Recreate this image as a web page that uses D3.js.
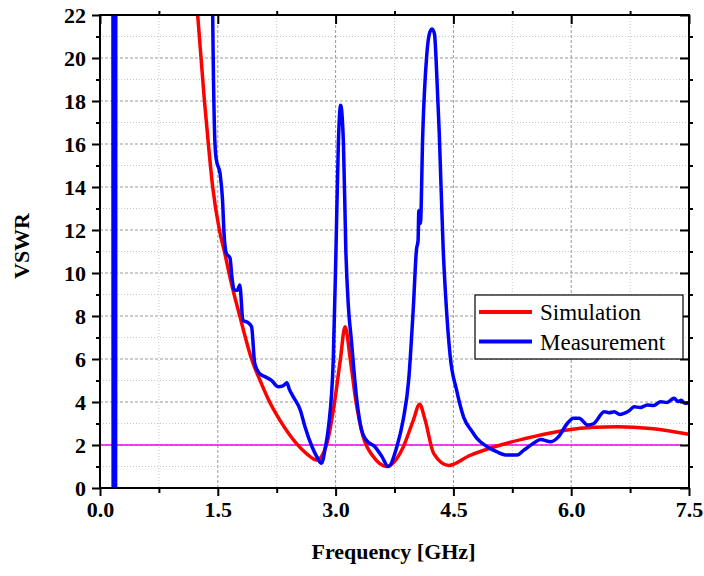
<!DOCTYPE html>
<html>
<head>
<meta charset="UTF-8">
<style>
  body { margin: 0; background: #fff; }
  svg text { font-family: "Liberation Serif", "Times New Roman", serif; }
</style>
</head>
<body>
<script src="https://d3js.org/d3.v7.min.js"></script>
<script>
// simulation curve [GHz, VSWR]
var simulation = [
  [1.20, 24], [1.244, 22], [1.33, 18], [1.38, 16], [1.435, 14], [1.52, 12],
  [1.59, 10.9], [1.655, 9.8], [1.78, 8.0], [1.93, 6.0], [2.05, 4.9], [2.16, 4.0],
  [2.29, 3.16], [2.50, 2.08], [2.63, 1.6], [2.76, 1.3], [2.89, 2.08], [2.97, 3.6],
  [3.06, 5.95], [3.12, 7.5], [3.19, 5.9], [3.26, 4.0], [3.35, 2.4], [3.48, 1.46],
  [3.65, 1.0], [3.86, 1.9], [3.99, 3.16], [4.07, 3.9], [4.14, 3.16], [4.25, 1.6],
  [4.44, 1.05], [4.70, 1.5], [5.10, 2.0], [5.52, 2.39], [5.95, 2.7], [6.30, 2.82],
  [6.59, 2.85], [7.01, 2.77], [7.50, 2.5]
];

// measured curve [GHz, VSWR]
var measurement = [
  [0.10, 40], [0.163, 40], [0.168, -2], [0.172, -2], [0.177, 40], [0.181, -2],
  [0.185, -2], [0.19, 40], [0.194, -2], [0.198, -2], [0.203, 40], [1.40, 40],
  [1.435, 22], [1.464, 16], [1.48, 15.3], [1.53, 14.6], [1.56, 13.4], [1.58, 11.8],
  [1.61, 10.9], [1.655, 10.7], [1.68, 9.8], [1.71, 9.2], [1.75, 9.2], [1.78, 9.44],
  [1.82, 7.8], [1.88, 7.7], [1.93, 7.5], [1.97, 5.8], [2.03, 5.33], [2.10, 5.18],
  [2.18, 5.02], [2.27, 4.71], [2.33, 4.75], [2.38, 4.9], [2.41, 4.6], [2.46, 4.25],
  [2.55, 3.63], [2.61, 2.85], [2.70, 1.92], [2.76, 1.46], [2.82, 1.15], [2.87, 1.9],
  [2.91, 2.85], [2.97, 5.95], [3.005, 11.1], [3.035, 16.0], [3.064, 17.8], [3.10, 16.0],
  [3.13, 11.1], [3.16, 8.6], [3.20, 6.9], [3.27, 4.1], [3.33, 2.7], [3.39, 2.23],
  [3.50, 1.92], [3.59, 1.46], [3.67, 1.0], [3.78, 1.92], [3.86, 3.16], [3.93, 5.0],
  [3.99, 8.4], [4.03, 11.1], [4.05, 11.5], [4.06, 12.9], [4.08, 12.3], [4.11, 16.5],
  [4.16, 20.1], [4.20, 21.2], [4.23, 21.35], [4.26, 21.1], [4.28, 19.9], [4.32, 16.5],
  [4.37, 11.1], [4.40, 9.0], [4.46, 6.1], [4.54, 4.56], [4.63, 3.3], [4.74, 2.62],
  [4.80, 2.31], [4.93, 1.92], [5.05, 1.69], [5.18, 1.53], [5.31, 1.53], [5.40, 1.77],
  [5.52, 2.08], [5.61, 2.26], [5.74, 2.15], [5.84, 2.39], [5.95, 3.0], [6.03, 3.24],
  [6.10, 3.24], [6.21, 2.93], [6.29, 3.0], [6.42, 3.55], [6.48, 3.5], [6.55, 3.55],
  [6.62, 3.42], [6.67, 3.47], [6.74, 3.6], [6.80, 3.78], [6.88, 3.74], [6.97, 3.86],
  [7.05, 3.84], [7.14, 4.01], [7.22, 3.98], [7.31, 4.17], [7.36, 4.02], [7.40, 4.08],
  [7.45, 3.94], [7.50, 3.97]
];

var refLine = [[0, 2], [7.41, 2]];

var xTicks = [0, 1.5, 3.0, 4.5, 6.0, 7.5];
var xMinor = [0.75, 2.25, 3.75, 5.25, 6.75];
var yTicks = [0, 2, 4, 6, 8, 10, 12, 14, 16, 18, 20, 22];
var yMinor = [1, 3, 5, 7, 9, 11, 13, 15, 17, 19, 21];

var seriesNames = ['Simulation', 'Measurement'];
var seriesColors = ['#ff0000', '#0000ff'];

var W = 704, H = 576;
var L = 100, R = 689, T = 15, B = 488;

var svg = d3.select('body').append('svg').attr('width', W).attr('height', H);

var x = d3.scaleLinear().domain([0, 7.5]).range([L, R]);
var y = d3.scaleLinear().domain([0, 22]).range([B, T]);

// grid
var grid = svg.append('g');
grid.selectAll('.vmin').data(xMinor).enter().append('line')
  .attr('x1', d => x(d)).attr('x2', d => x(d)).attr('y1', T).attr('y2', B)
  .attr('stroke', '#c8c8c8').attr('stroke-width', 1).attr('stroke-dasharray', '1,2');
grid.selectAll('.hmin').data(yMinor).enter().append('line')
  .attr('y1', d => y(d)).attr('y2', d => y(d)).attr('x1', L).attr('x2', R)
  .attr('stroke', '#c8c8c8').attr('stroke-width', 1).attr('stroke-dasharray', '1,2');
grid.selectAll('.vmaj').data(xTicks.slice(1, -1)).enter().append('line')
  .attr('x1', d => x(d)).attr('x2', d => x(d)).attr('y1', T).attr('y2', B)
  .attr('stroke', '#999').attr('stroke-width', 1).attr('stroke-dasharray', '3,2');
grid.selectAll('.hmaj').data(yTicks.slice(1, -1)).enter().append('line')
  .attr('y1', d => y(d)).attr('y2', d => y(d)).attr('x1', L).attr('x2', R)
  .attr('stroke', '#999').attr('stroke-width', 1).attr('stroke-dasharray', '3,2');

svg.append('clipPath').attr('id', 'clip').append('rect')
  .attr('x', L).attr('y', T).attr('width', R - L).attr('height', B - T);

var line = d3.line().x(d => x(d[0])).y(d => y(d[1]));
var smooth = d3.line().x(d => x(d[0])).y(d => y(d[1])).curve(d3.curveMonotoneX);
var plot = svg.append('g').attr('clip-path', 'url(#clip)');

plot.append('path').datum(refLine).attr('d', line)
  .attr('fill', 'none').attr('stroke', '#ff00ff').attr('stroke-width', 1.5);
plot.append('path').datum(simulation).attr('d', smooth)
  .attr('fill', 'none').attr('stroke', seriesColors[0]).attr('stroke-width', 3.5);
plot.append('path').datum(measurement).attr('d', smooth)
  .attr('fill', 'none').attr('stroke', seriesColors[1]).attr('stroke-width', 3.5)
  .attr('stroke-linejoin', 'round');

// axes
svg.append('g').attr('transform', 'translate(0,' + B + ')')
  .call(d3.axisBottom(x).tickValues(xTicks).tickFormat(d3.format('.1f')).tickSize(8).tickPadding(5));
svg.append('g').attr('transform', 'translate(0,' + B + ')')
  .call(d3.axisBottom(x).tickValues(xMinor).tickSize(5).tickFormat(''));
svg.append('g').attr('transform', 'translate(' + L + ',0)')
  .call(d3.axisLeft(y).tickValues(yTicks).tickSize(8).tickPadding(6));
svg.append('g').attr('transform', 'translate(' + L + ',0)')
  .call(d3.axisLeft(y).tickValues(yMinor).tickSize(4).tickFormat(''));

// top and right: majors inward, minors outward
svg.append('g').attr('transform', 'translate(0,' + T + ')')
  .call(d3.axisBottom(x).tickValues(xTicks).tickSize(9).tickFormat(''));
svg.append('g').attr('transform', 'translate(0,' + T + ')')
  .call(d3.axisTop(x).tickValues(xMinor).tickSize(4).tickFormat(''));
svg.append('g').attr('transform', 'translate(' + R + ',0)')
  .call(d3.axisLeft(y).tickValues(yTicks).tickSize(9).tickFormat(''));
svg.append('g').attr('transform', 'translate(' + R + ',0)')
  .call(d3.axisRight(y).tickValues(yMinor).tickSize(4).tickFormat(''));

svg.selectAll('.domain').remove();
svg.selectAll('.tick line').attr('stroke', '#000').attr('stroke-width', 2);
svg.selectAll('.tick text').attr('fill', '#000')
  .style('font-family', '"Liberation Serif", serif')
  .style('font-size', '22px').style('font-weight', 'bold');

svg.append('rect').attr('x', L).attr('y', T).attr('width', R - L).attr('height', B - T)
  .attr('fill', 'none').attr('stroke', '#000').attr('stroke-width', 2);

// axis titles
svg.append('text').attr('x', (L + R) / 2 - 1).attr('y', 559).attr('text-anchor', 'middle')
  .style('font-size', '22px').style('font-weight', 'bold').text('Frequency [GHz]');
svg.append('text').attr('transform', 'translate(29,246) rotate(-90)').attr('text-anchor', 'middle')
  .style('font-size', '22px').style('font-weight', 'bold').text('VSWR');

// legend
var lg = svg.append('g').attr('transform', 'translate(475,295)');
lg.append('rect').attr('width', 208).attr('height', 64)
  .attr('fill', '#fff').attr('stroke', '#000').attr('stroke-width', 1.2);
seriesNames.forEach(function (name, i) {
  var yy = 17 + i * 29.5;
  lg.append('line').attr('x1', 4).attr('x2', 57).attr('y1', yy).attr('y2', yy)
    .attr('stroke', seriesColors[i]).attr('stroke-width', 4);
  lg.append('text').attr('x', 65).attr('y', yy + 8).style('font-size', '23px').text(name);
});
</script>
</body>
</html>
